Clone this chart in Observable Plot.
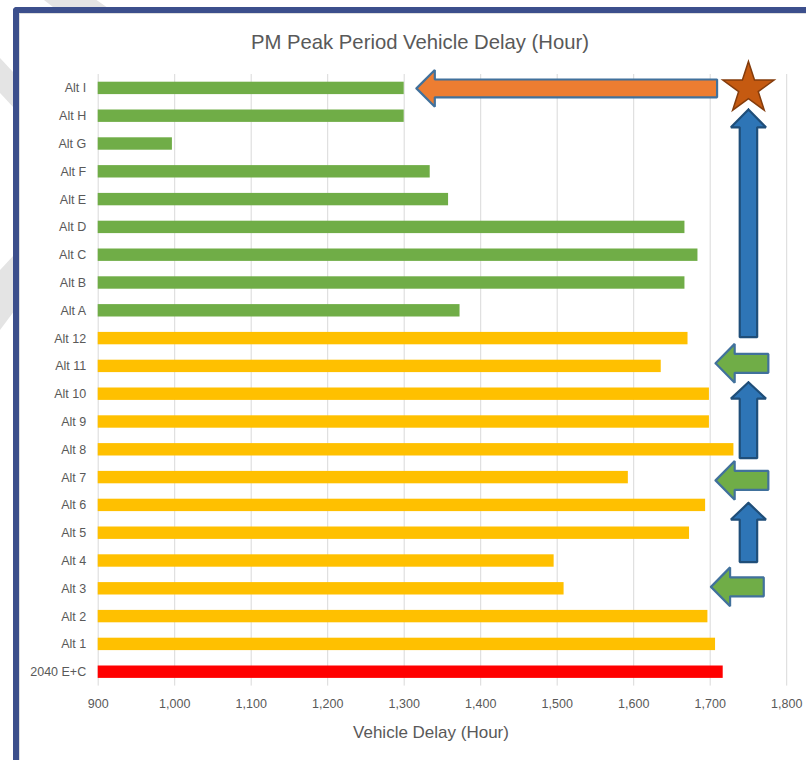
<!DOCTYPE html>
<html><head><meta charset="utf-8">
<script src="https://cdn.jsdelivr.net/npm/d3@7"></script>
<script src="https://cdn.jsdelivr.net/npm/@observablehq/plot@0.6"></script>
<style>
html,body{margin:0;padding:0;background:#fff;}
body{width:806px;height:760px;overflow:hidden;position:relative;font-family:"Liberation Sans",Arial,sans-serif;}
.deco{position:absolute;background:#e4e4e4;}
#d1{left:44px;top:0;width:64px;height:8px;clip-path:polygon(0 0,82% 0,100% 100%,16% 100%);}
#d2{left:0;top:58px;width:14px;height:50px;clip-path:polygon(0 0,100% 30%,100% 100%,0 70%);}
#d3{left:0;top:255px;width:14px;height:75px;clip-path:polygon(0 20%,100% 0,100% 75%,0 100%);}
#frame{position:absolute;left:13px;top:7px;width:900px;height:900px;border-left:6px solid #3C4F8C;border-top:6px solid #3C4F8C;border-top-left-radius:4px;box-shadow:inset 1px 1px 0 #dedede;background:#fff;}
#chart{position:absolute;left:0;top:0;}
#title{position:absolute;left:0;width:840px;top:32px;text-align:center;font-size:20.3px;line-height:20px;color:#595959;white-space:nowrap;}
#xlabel{position:absolute;left:0;width:862px;top:724px;text-align:center;font-size:17px;line-height:18px;color:#595959;white-space:nowrap;}
</style>
</head><body>
<div class="deco" id="d1"></div>
<div class="deco" id="d2"></div>
<div class="deco" id="d3"></div>
<div id="frame"></div>
<div id="chart"></div>
<div id="title">PM Peak Period Vehicle Delay (Hour)</div>
<div id="xlabel">Vehicle Delay (Hour)</div>
<script>
// categories from bottom to top
const categories = ["2040 E+C","Alt 1","Alt 2","Alt 3","Alt 4","Alt 5","Alt 6","Alt 7","Alt 8","Alt 9","Alt 10","Alt 11","Alt 12","Alt A","Alt B","Alt C","Alt D","Alt E","Alt F","Alt G","Alt H","Alt I"];
const values = [1717,1707,1697,1509,1496,1673,1694,1593,1731,1699,1699,1636,1671,1373,1667,1684,1667,1358,1334,997,1300,1300];
const groups = ["base","num","num","num","num","num","num","num","num","num","num","num","num","letter","letter","letter","letter","letter","letter","letter","letter","letter"];
const groupColors = {base:"#FF0000", num:"#FFC000", letter:"#70AD47"};
const xTicks = [900,1000,1100,1200,1300,1400,1500,1600,1700,1800];

// annotation shapes (data units)
// left-pointing arrows: tip x, head-base x, tail x, row y, shaft half-height, head half-height
const leftArrows = [
  {tip:1316, back:1340, tail:1709, y:21.0, sh:0.32, hh:0.66, fill:"#ED7D31", stroke:"#41719C"},
  {tip:1707, back:1732, tail:1776, y:11.11, sh:0.34, hh:0.70, fill:"#70AD47", stroke:"#41719C"},
  {tip:1707, back:1732, tail:1776, y:6.90, sh:0.34, hh:0.70, fill:"#70AD47", stroke:"#41719C"},
  {tip:1701, back:1726, tail:1770, y:3.07, sh:0.34, hh:0.70, fill:"#70AD47", stroke:"#41719C"}
];
// up-pointing arrows: x center, tip y, head-base y, bottom y, shaft half-width, head half-width
const upArrows = [
  {x:1750, tip:20.24, base:19.6, bottom:12.05, sw:11.4, hw:22.9},
  {x:1750, tip:10.43, base:9.84, bottom:7.7, sw:11.4, hw:22.9},
  {x:1750, tip:6.09, base:5.49, bottom:3.96, sw:11.4, hw:22.9}
];
const star = [{x:1750, y:21.0}];

const bars = categories.map((c,i)=>({cat:c, i, value:values[i], color:groupColors[groups[i]]}));

function leftArrowPts(a, k){
  return [[a.tip,a.y],[a.back,a.y+a.hh],[a.back,a.y+a.sh],[a.tail,a.y+a.sh],[a.tail,a.y-a.sh],[a.back,a.y-a.sh],[a.back,a.y-a.hh],[a.tip,a.y]]
    .map(([x,y])=>({x,y,k}));
}
function upArrowPts(a, k){
  return [[a.x,a.tip],[a.x+a.hw,a.base],[a.x+a.sw,a.base],[a.x+a.sw,a.bottom],[a.x-a.sw,a.bottom],[a.x-a.sw,a.base],[a.x-a.hw,a.base],[a.x,a.tip]]
    .map(([x,y])=>({x,y,k}));
}

const marks = [
  Plot.ruleX(xTicks, {stroke:"#D9D9D9", strokeWidth:1}),
  Plot.rectX(bars, {x1: () => xTicks[0], x2: "value", y1: d => d.i - 0.223, y2: d => d.i + 0.223, fill: "color"})
];
leftArrows.forEach((a,k)=>{
  marks.push(Plot.line(leftArrowPts(a,k), {x:"x", y:"y", fill:a.fill, stroke:a.stroke, strokeWidth:2.2, strokeLinejoin:"miter", curve:"linear"}));
});
upArrows.forEach((a,k)=>{
  marks.push(Plot.line(upArrowPts(a,k), {x:"x", y:"y", fill:"#2E75B6", stroke:"#1F4E79", strokeWidth:2.2, strokeLinejoin:"miter", curve:"linear"}));
});
marks.push(Plot.dot(star, {x:"x", y:"y", symbol:"star", r:16.1, fill:"#C55A11", stroke:"#843C0C", strokeWidth:1.5}));

const chart = Plot.plot({
  width: 806,
  height: 760,
  marginLeft: 97.7,
  marginRight: 19.8,
  marginTop: 74,
  marginBottom: 74.4,
  style: {fontFamily: '"Liberation Sans", Arial, sans-serif', fontSize: "12.5px", color: "#595959", background: "transparent", overflow: "visible"},
  color: {type: "identity"},
  x: {domain: [900, 1800], ticks: xTicks, tickFormat: d3.format(","), tickSize: 0, tickPadding: 13, label: null},
  y: {domain: [-0.5, 21.5], ticks: d3.range(categories.length), tickFormat: i => categories[i], tickSize: 0, tickPadding: 12, label: null},
  marks
});
document.getElementById("chart").appendChild(chart);
</script>
</body></html>
